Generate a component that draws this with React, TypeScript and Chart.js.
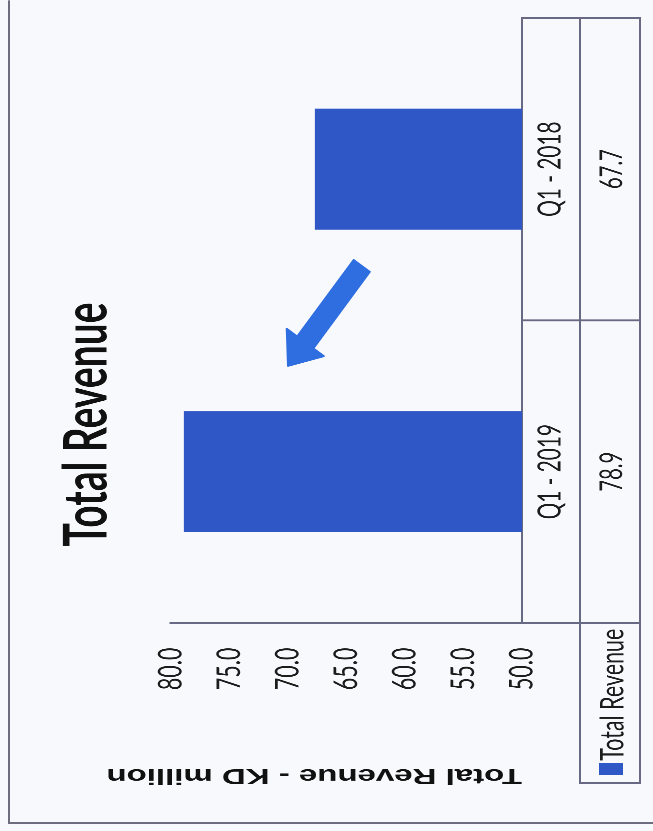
import React, { useEffect, useRef } from "react";
import { Chart, registerables } from "chart.js";

Chart.register(...registerables);

// ---- data ----
const categories = ["Q1 - 2019", "Q1 - 2018"];
const revenue = [78.9, 67.7];
const seriesLabel = "Total Revenue";
const yTicks = [50, 55, 60, 65, 70, 75, 80];
const yMin = 50;
const yMax = 80;
const chartTitle = "Total Revenue";
const yAxisTitle = "Total Revenue - KD million";
// decorative arrow: from (category index, value) to (category index, value)
const arrowFrom = { index: 0.68, value: 63.7 };
const arrowTo = { index: 0.35, value: 70.0 };

// ---- styles ----
const S = 0.65; // horizontal squeeze of the photographed slide
const VIEW_W = 653;
const VIEW_H = 831;
const CW = Math.round(VIEW_H / S);
const CH = VIEW_W;
const BG = "#f8f9fd";
const BAR = "#2f58c6";
const ARROW = "#2f6ee0";
const LINE = "#676a82";
const TEXT = "#1c1c1c";
const SANS = "Lato, 'Noto Sans', sans-serif";

const ROW1_H = 58;
const ROW2_H = 60;
const LEGEND_LEFT = 74;

const decorPlugin = {
  id: "decor",
  beforeDraw(chart: any) {
    const { ctx } = chart;
    ctx.save();
    ctx.fillStyle = BG;
    ctx.fillRect(0, 0, chart.width, chart.height);
    ctx.strokeStyle = "#6c6e80";
    ctx.lineCap = "butt";
    ctx.lineWidth = 3;
    ctx.beginPath();
    ctx.moveTo(12.5, chart.height + 10);
    ctx.lineTo(12.5, 9);
    ctx.stroke();
    ctx.lineWidth = 2;
    ctx.beginPath();
    ctx.moveTo(11, 9);
    ctx.lineTo(chart.width + 10, 9);
    ctx.stroke();
    ctx.restore();
  },
  afterDraw(chart: any) {
    const { ctx, chartArea, scales } = chart;
    const xs = scales.x;
    const ys = scales.y;
    const left = chartArea.left;
    const right = chartArea.right;
    const base = chartArea.bottom;
    const r1 = base + ROW1_H;
    const r2 = r1 + ROW2_H;
    const n = chart.data.labels.length;
    ctx.save();
    ctx.strokeStyle = LINE;
    // horizontal (constant Y) lines
    ctx.lineWidth = 2;
    ctx.beginPath();
    ctx.moveTo(LEGEND_LEFT, r1);
    ctx.lineTo(right, r1);
    ctx.moveTo(LEGEND_LEFT, r2);
    ctx.lineTo(right, r2);
    ctx.stroke();
    // vertical (constant X) lines
    ctx.lineWidth = 3;
    ctx.beginPath();
    ctx.moveTo(left, base);
    ctx.lineTo(left, r2);
    ctx.moveTo(right, base - 1);
    ctx.lineTo(right, r2 + 1);
    ctx.moveTo(LEGEND_LEFT, r1 - 1);
    ctx.lineTo(LEGEND_LEFT, r2 + 1);
    for (let i = 0; i < n - 1; i++) {
      const sep = (xs.getPixelForTick(i) + xs.getPixelForTick(i + 1)) / 2;
      ctx.moveTo(sep, base);
      ctx.lineTo(sep, r2);
    }
    ctx.stroke();

    // values row
    const ds = chart.data.datasets[0];
    ctx.fillStyle = TEXT;
    ctx.font = `31px ${SANS}`;
    ctx.textAlign = "center";
    ctx.textBaseline = "middle";
    ds.data.forEach((v: number, i: number) => {
      ctx.fillText(v.toFixed(1), xs.getPixelForTick(i), (r1 + r2) / 2 + 2);
    });
    // legend cell
    ctx.fillStyle = ds.backgroundColor;
    ctx.fillRect(86, r1 + 19, 19, 24);
    ctx.fillStyle = TEXT;
    ctx.font = `33px ${SANS}`;
    ctx.textAlign = "left";
    ctx.fillText(ds.label, 108, (r1 + r2) / 2 + 3);

    // arrow (drawn in unsqueezed space)
    const tx = xs.getPixelForValue(arrowFrom.index) * S;
    const ty = ys.getPixelForValue(arrowFrom.value);
    const hx = xs.getPixelForValue(arrowTo.index) * S;
    const hy = ys.getPixelForValue(arrowTo.value);
    const dx = hx - tx;
    const dy = hy - ty;
    const len = Math.hypot(dx, dy);
    const ux = dx / len;
    const uy = dy / len;
    const px = -uy;
    const py = ux;
    const sh = 10;
    const hh = 23;
    const hl = 29;
    const bx = hx - ux * hl;
    const by = hy - uy * hl;
    const pts = [
      [tx + px * sh, ty + py * sh],
      [bx + px * sh, by + py * sh],
      [bx + px * hh, by + py * hh],
      [hx, hy],
      [bx - px * hh, by - py * hh],
      [bx - px * sh, by - py * sh],
      [tx - px * sh, ty - py * sh],
    ];
    ctx.scale(1 / S, 1);
    ctx.beginPath();
    pts.forEach(([a, b], i) => (i ? ctx.lineTo(a, b) : ctx.moveTo(a, b)));
    ctx.closePath();
    ctx.fillStyle = ARROW;
    ctx.strokeStyle = ARROW;
    ctx.lineJoin = "round";
    ctx.lineWidth = 2;
    ctx.fill();
    ctx.stroke();
    ctx.restore();
  },
};

export default function App() {
  const ref = useRef<HTMLCanvasElement>(null);
  useEffect(() => {
    const chart = new Chart(ref.current as HTMLCanvasElement, {
      type: "bar",
      data: {
        labels: categories,
        datasets: [
          {
            label: seriesLabel,
            data: revenue,
            backgroundColor: BAR,
            barPercentage: 0.4,
            categoryPercentage: 1,
          },
        ],
      },
      options: {
        animation: false,
        responsive: false,
        devicePixelRatio: 2,
        layout: { padding: { left: 0, right: 27, top: 0, bottom: 0 } },
        plugins: {
          legend: { display: false },
          tooltip: { enabled: false },
          title: {
            display: true,
            text: chartTitle,
            color: "#111",
            font: { family: SANS, size: 60, weight: "bold" },
            padding: { top: 51, bottom: 48 },
          },
        },
        scales: {
          x: {
            offset: true,
            grid: { display: false, drawTicks: false },
            border: { display: true, color: LINE, width: 2 },
            ticks: {
              color: TEXT,
              font: { family: SANS, size: 32 },
              padding: 9,
              maxRotation: 0,
              autoSkip: false,
            },
            afterFit: (scale: any) => {
              scale.height = 131;
            },
          },
          y: {
            min: yMin,
            max: yMax,
            afterBuildTicks: (scale: any) => {
              scale.ticks = yTicks.map((v) => ({ value: v }));
            },
            grid: { display: false, drawTicks: false },
            border: { display: true, color: LINE, width: 3 },
            ticks: {
              color: TEXT,
              font: { family: SANS, size: 33 },
              padding: 38,
              callback: (v: any) => Number(v).toFixed(1),
            },
            title: {
              display: true,
              text: yAxisTitle,
              align: "start",
              color: "#111",
              font: { family: "'Liberation Sans', Arial, sans-serif", size: 33, weight: "bold" },
              padding: { top: 66, bottom: 0 },
            },
            afterFit: (scale: any) => {
              scale.width = 320;
            },
          },
        },
      },
      plugins: [decorPlugin],
    } as any);
    return () => chart.destroy();
  }, []);

  return (
    <div
      style={{
        position: "fixed",
        left: 0,
        top: 0,
        width: VIEW_W,
        height: VIEW_H,
        overflow: "hidden",
        background: BG,
      }}
    >
      <div
        style={{
          position: "absolute",
          left: 0,
          top: 0,
          width: CW,
          height: CH,
          transformOrigin: "0 0",
          transform: `translateY(${VIEW_H}px) rotate(-90deg) scaleX(${S})`,
        }}
      >
        <canvas ref={ref} width={CW} height={CH} style={{ display: "block", width: CW, height: CH }} />
      </div>
    </div>
  );
}
